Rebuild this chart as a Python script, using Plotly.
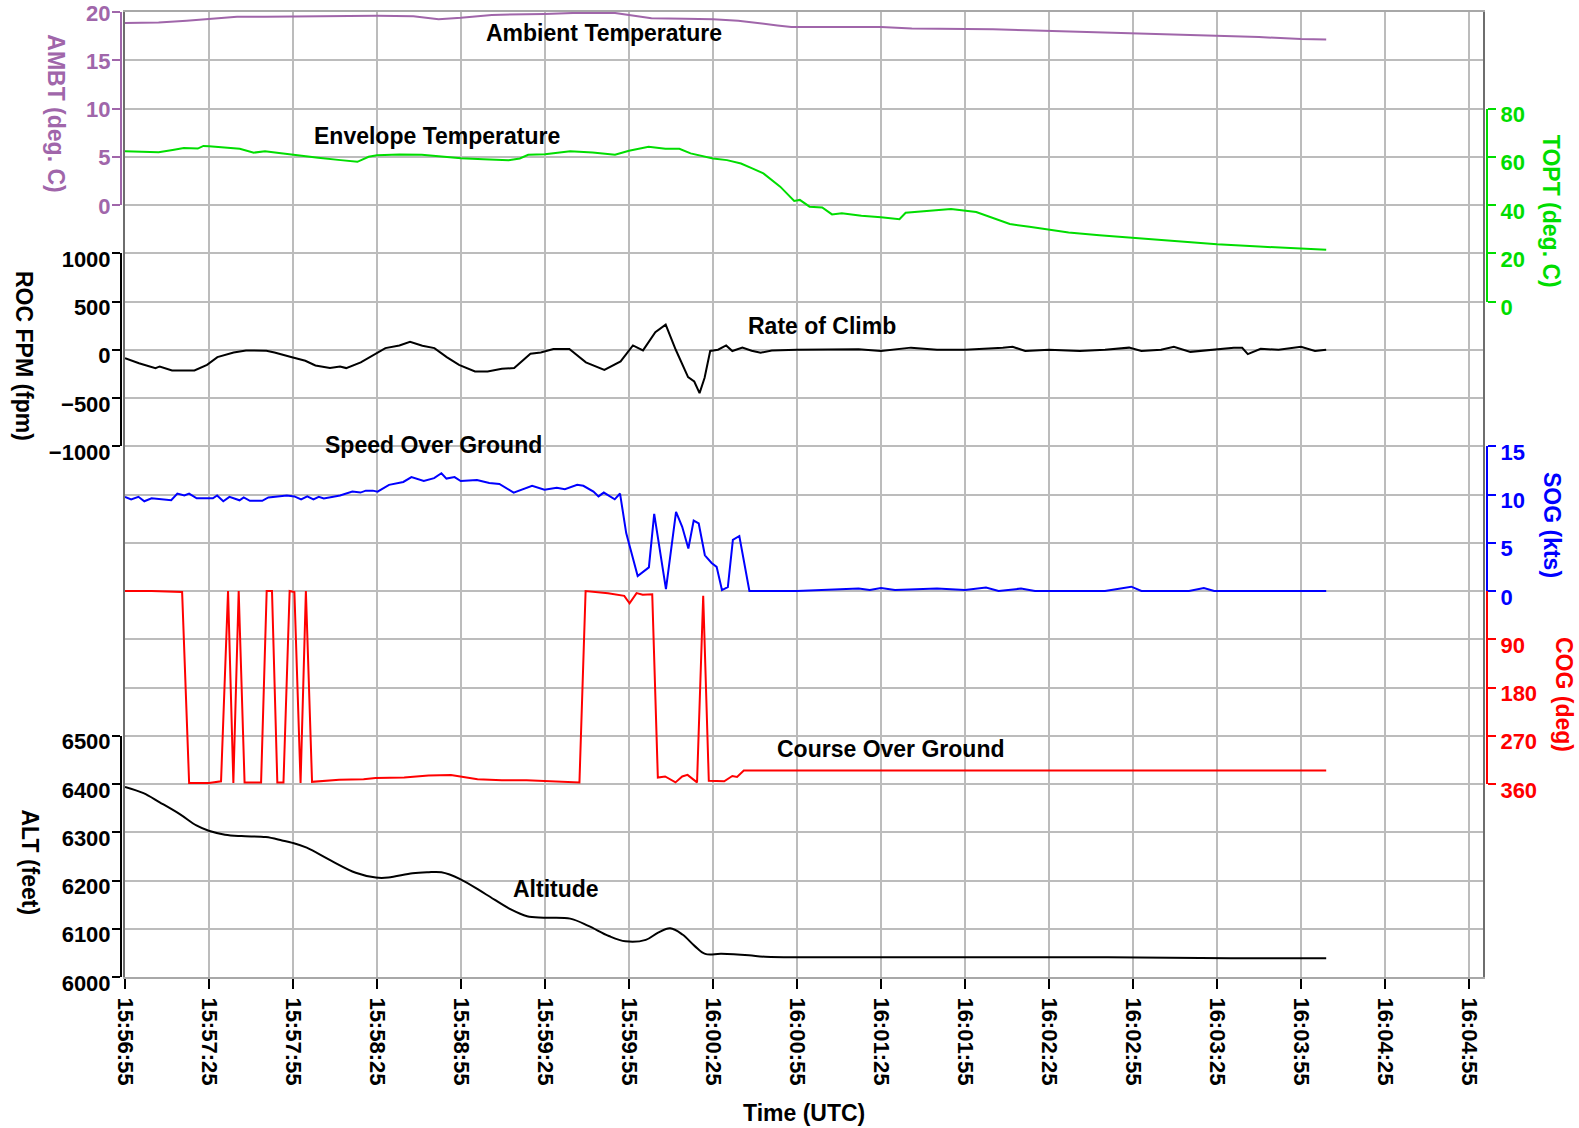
import plotly.graph_objects as go
from datetime import datetime, timedelta

# ---------------- data (seconds after 15:56:55 UTC) ----------------
START = "2000-01-01 15:56:55"
X_END_SEC = 485
X_TICK_STEP_SEC = 30

amb_t = [0, 12, 22, 30, 40, 50, 60, 65, 90, 103, 112, 120, 131, 150, 160, 175, 180, 188,
         200, 210, 219, 225, 233, 238, 250, 262, 265, 270, 281, 290, 300, 310, 322, 330,
         345, 360, 375, 390, 405, 420, 429]
amb_v = [18.86, 18.9, 19.1, 19.28, 19.5, 19.5, 19.52, 19.6, 19.6, 19.55, 19.25, 19.4, 19.7,
         19.8, 19.9, 19.9, 19.7, 19.35, 19.3, 19.25, 19.1, 18.86, 18.6, 18.45, 18.45, 18.4,
         18.45, 18.45, 18.3, 18.28, 18.24, 18.2, 18.1, 18.03, 17.95, 17.83, 17.7, 17.55,
         17.4, 17.2, 17.14]

topt_t = [0, 6, 12, 17, 21, 26, 28, 30, 35, 41, 46, 50, 55, 60, 69, 77, 83, 87, 90, 98,
          106, 112, 120, 128, 137, 141, 144, 150, 159, 167, 175, 180, 187, 193, 198, 202,
          210, 215, 220, 224, 228, 234, 239, 241, 244.5, 249, 252.5, 256, 263, 270, 276.6,
          278.8, 287, 295, 304, 310, 316, 323, 330, 337, 348, 360, 375, 390, 405, 420, 429]
topt_v = [62.3, 62.1, 61.9, 62.8, 63.6, 63.4, 64.5, 64.4, 63.8, 63.3, 61.7, 62.3, 61.6, 60.8,
          59.6, 58.6, 57.9, 60.0, 60.6, 60.9, 60.8, 60.2, 59.4, 59.0, 58.6, 59.3, 60.8, 61.0,
          62.3, 61.8, 60.8, 62.5, 64.1, 63.3, 63.3, 61.4, 59.3, 58.6, 57.2, 55.2, 53.1, 47.6,
          41.7, 42.1, 39.3, 39.0, 36.1, 36.6, 35.5, 34.9, 34.1, 36.8, 37.7, 38.3, 37.1, 34.5,
          32.1, 31.0, 29.9, 28.6, 27.5, 26.5, 25.0, 23.7, 22.8, 22.1, 21.4]

roc_t = [0, 5, 10.9, 12.4, 16.8, 24.8, 29.3, 33, 38.8, 43.2, 50.5, 53.4, 59.3, 64.4, 68,
         73.2, 76.8, 79, 84.2, 90, 93, 98, 101.8, 106.2, 110.5, 114.9, 119.3, 125, 129.5,
         134.6, 139, 144.8, 148.5, 153, 158.7, 164.6, 171.2, 177, 181.4, 185, 189.4, 193.1,
         196.7, 201.1, 203.3, 205.2, 207, 209, 211.8, 214.7, 216.9, 220.5, 223.8, 227, 231,
         240, 262, 270, 280.7, 290, 300, 313.5, 317, 321.5, 330, 341, 350, 358.6, 363, 370,
         374.6, 380.5, 388, 396, 399, 401, 405.6, 412, 420, 425, 429]
roc_v = [-87, -140, -190, -173, -215, -215, -156, -76, -28, -7, -10, -28, -76, -114, -163,
         -190, -173, -190, -131, -35, 17, 45, 83, 42, 17, -76, -156, -225, -225, -197, -190,
         -42, -28, 7, 7, -131, -208, -121, 45, -7, 183, 260, 0, -284, -329, -450, -290, -13,
         0, 45, -13, 22, -10, -31, -9, 0, 5, -13, 22, 0, 0, 22, 31, -13, 0, -13, 0, 22, -13,
         0, 31, -22, 0, 20, 20, -45, 10, 0, 31, -13, 0]

sog_t = [0, 2.2, 4.8, 6.9, 9.5, 13, 16.5, 18.7, 21.2, 22.9, 25.6, 31.4, 32.9, 35.1, 37.3,
         40.9, 42.4, 44.6, 49, 51.2, 57.8, 60.5, 62.9, 65.1, 67.3, 69.2, 71, 76.8, 81.2,
         84.1, 86, 88.5, 90.2, 94.3, 99.4, 102.3, 106.7, 110.4, 113, 114.8, 117.7, 119.9,
         125.7, 130.1, 133.7, 138.8, 145.4, 149.8, 154.2, 157.1, 161.5, 163.7, 167.3, 169.1,
         171, 174.9, 176.8, 179, 183.1, 187.1, 189, 193.2, 196.8, 199, 201.2, 203.1, 204.9,
         207.1, 209.5, 211.3, 213.2, 215.3, 217.1, 219.4, 223, 240, 262, 266, 270, 275, 290,
         300, 307.5, 312, 320, 325, 350, 359.4, 363, 380, 385.3, 389, 429]
sog_v = [9.76, 9.5, 9.76, 9.3, 9.6, 9.5, 9.4, 10.1, 9.9, 10.1, 9.6, 9.6, 9.9, 9.3, 9.76, 9.4,
         9.7, 9.35, 9.35, 9.7, 9.9, 9.8, 9.5, 9.8, 9.5, 9.76, 9.6, 9.9, 10.3, 10.2, 10.4, 10.4,
         10.3, 11.0, 11.3, 11.8, 11.4, 11.7, 12.2, 11.65, 11.8, 11.4, 11.5, 11.2, 11.1, 10.2,
         10.9, 10.5, 10.7, 10.55, 11.0, 10.9, 10.3, 9.8, 10.2, 9.5, 10.1, 6.0, 1.55, 2.45, 8.0,
         0.2, 8.2, 6.65, 4.4, 7.3, 7.0, 3.7, 2.9, 2.5, 0.1, 0.4, 5.3, 5.7, 0.0, 0.0, 0.25, 0.1,
         0.3, 0.1, 0.25, 0.1, 0.35, 0.0, 0.25, 0.0, 0.0, 0.45, 0.0, 0.0, 0.3, 0.0, 0.0]

cog_t = [0, 9.5, 20.4, 22.9, 30, 34.3, 36.8, 38.7, 40.6, 42.7, 48.6, 50.6, 52.5, 54.4, 56.6,
         58.8, 60.5, 62.7, 64.6, 66.8, 76.5, 85.2, 89.5, 99.7, 108.4, 116.4, 125.9, 134.6,
         143.4, 149.2, 162.3, 164.5, 172.5, 178.3, 180.2, 182.7, 184.9, 188.3, 190.3, 192.9,
         196.6, 199, 200.9, 204.3, 206.5, 208.5, 214, 216.9, 218.6, 221, 429]
cog_v = [0, 0, 2, 358, 358, 355, 0, 358, 0, 357, 357, 0, 0, 357, 357, 0, 2, 358, 0, 356, 352,
         351, 349, 348, 344, 343, 351, 353, 353, 354, 357, 0, 4, 9, 23, 4, 7, 6, 348, 346, 357,
         346, 343, 357, 9, 354, 355, 345, 347, 335, 335]

alt_t = [0, 6.6, 12.4, 19.7, 25.5, 29.9, 35.7, 41.6, 50.3, 56.1, 59.8, 64.9, 73.6, 82.4, 89.6,
         94, 102.7, 108, 113, 119.7, 129, 137.8, 143.6, 149.5, 159, 165.5, 172.8, 178.7, 186,
         190.4, 194.7, 199.1, 203.5, 207.2, 213, 222.8, 228.6, 249, 300, 351, 395, 429]
alt_v = [6394, 6381, 6362, 6337, 6314, 6303, 6295, 6292, 6290, 6283, 6278, 6268, 6241, 6216,
         6206, 6206, 6215, 6217, 6217, 6203, 6171, 6140, 6126, 6123, 6121, 6106, 6085, 6074,
         6077, 6092, 6101, 6088, 6064, 6048, 6048, 6045, 6042, 6041, 6041, 6041, 6039, 6039]

# ---------------- styling ----------------
PURPLE = "#a066aa"
GREEN = "#00dd00"
BLUE = "#0000ff"
RED = "#ff0000"
BLACK = "#000000"
GRID = "#bcbcbc"
FONT = "Arial, Liberation Sans, sans-serif"
TICK_SIZE = 22
TEXT_SIZE = 23
LINE_W = 2

W, H = 1579, 1128
ML, MR, MT, MB = 121, 92, 12, 151
PW = W - ML - MR
PH = H - MT - MB
NROWS = 20
EDGE = 4 / PW               # plot frame sits 4 px inside the free y axes

base = datetime.strptime(START, "%Y-%m-%d %H:%M:%S")


def to_time(seconds):
    return [base + timedelta(seconds=s) for s in seconds]


# band: rows (from top) covered by the visible axis, and its value range
bands = {
    "amb": dict(r0=0, r1=4, lo=0, hi=20, side="left", color=PURPLE, ticks=[0, 5, 10, 15, 20],
                lshift=1),
    "topt": dict(r0=2, r1=6, lo=0, hi=80, side="right", color=GREEN, ticks=[0, 20, 40, 60, 80],
                 lshift=6),
    "roc": dict(r0=5, r1=9, lo=-1000, hi=1000, side="left", color=BLACK,
                ticks=[-1000, -500, 0, 500, 1000], lshift=6),
    "sog": dict(r0=9, r1=12, lo=0, hi=15, side="right", color=BLUE, ticks=[0, 5, 10, 15],
                lshift=6),
    "cog": dict(r0=12, r1=16, lo=0, hi=360, side="right", color=RED, ticks=[90, 180, 270, 360],
                reverse=True, lshift=-6),
    "alt": dict(r0=15, r1=20, lo=6000, hi=6500, side="left", color=BLACK,
                ticks=[6000, 6100, 6200, 6300, 6400, 6500], lshift=6),
}
order = ["amb", "topt", "roc", "sog", "cog", "alt"]
data = {
    "amb": (amb_t, amb_v, "linear"),
    "topt": (topt_t, topt_v, "linear"),
    "roc": (roc_t, roc_v, "linear"),
    "sog": (sog_t, sog_v, "linear"),
    "cog": (cog_t, cog_v, "linear"),
    "alt": (alt_t, alt_v, "spline"),
}

fig = go.Figure()
layout_axes = {}
x_range = [base, base + timedelta(seconds=X_END_SEC)]

# grid axis (y) : one row per gridline over the full plot -> main subplot "xy"
layout_axes["yaxis"] = dict(domain=[0, 1], range=[0, NROWS], dtick=1, anchor="x",
                            showgrid=True, gridcolor=GRID, gridwidth=2,
                            showticklabels=False, ticks="", zeroline=False, showline=True,
                            linecolor="#6e6e6e", linewidth=2, mirror=True, automargin=False)
fig.add_trace(go.Scatter(x=to_time([0]), y=[None], xaxis="x", yaxis="y", mode="lines",
                         showlegend=False, hoverinfo="skip"))
fig.add_trace(go.Scatter(x=to_time([0]), y=[None], xaxis="x2", yaxis="y", mode="lines",
                         showlegend=False, hoverinfo="skip"))

axis_ref = {}
n = 2
for key in order:
    b = bands[key]
    rev = b.get("reverse", False)
    u = (b["hi"] - b["lo"]) / (b["r1"] - b["r0"])
    # data axis overlaying the full plot height
    if not rev:
        full = [b["lo"] - (NROWS - b["r1"]) * u, b["hi"] + b["r0"] * u]
    else:
        full = [b["hi"] + (NROWS - b["r1"]) * u, b["lo"] - b["r0"] * u]
    dname = f"y{n}"
    layout_axes[f"yaxis{n}"] = dict(overlaying="y", anchor="x", range=full, visible=False,
                                    showgrid=False, zeroline=False, automargin=False)
    t, v, shape = data[key]
    fig.add_trace(go.Scatter(x=to_time(t), y=v, xaxis="x", yaxis=dname, mode="lines",
                             line=dict(color=b["color"], width=LINE_W, shape=shape),
                             showlegend=False))
    axis_ref[key] = dname
    n += 1

# visible axes drawn only over their own band
EPS = 1e-6
for key in order:
    b = bands[key]
    rev = b.get("reverse", False)
    dom = [(NROWS - b["r1"]) / NROWS, (NROWS - b["r0"]) / NROWS]
    span = (b["hi"] - b["lo"]) * EPS
    rng = [b["hi"] + span, b["lo"] - span] if rev else [b["lo"] - span, b["hi"] + span]
    col = b["color"]
    left = b["side"] == "left"
    layout_axes[f"yaxis{n}"] = dict(
        domain=dom, range=rng, anchor="free", position=0 if left else 1,
        side=b["side"], showgrid=False, zeroline=False, showline=True, linecolor=col,
        linewidth=2, ticks="outside", ticklen=8, tickwidth=2, tickcolor=col,
        tickvals=b["ticks"], automargin=False, ticklabeloverflow="allow",
        ticklabelshift=b["lshift"], ticklabelstandoff=-3 if left else 0,
        tickfont=dict(family=FONT, size=TICK_SIZE, color=col, weight="bold"))
    fig.add_trace(go.Scatter(x=to_time([0]), y=[None], xaxis="x", yaxis=f"y{n}",
                             mode="lines", showlegend=False, hoverinfo="skip"))
    n += 1

fig.update_layout(
    width=W, height=H,
    margin=dict(l=ML, r=MR, t=MT, b=MB, autoexpand=False),
    paper_bgcolor="white", plot_bgcolor="rgba(0,0,0,0)",
    showlegend=False,
    xaxis=dict(domain=[EDGE, 1 - EDGE], anchor="y", type="date", range=x_range,
               tick0=base, dtick=X_TICK_STEP_SEC * 1000, tickformat="%H:%M:%S",
               tickangle=90, ticks="outside", ticklen=10, tickwidth=2, tickcolor=BLACK,
               showgrid=False, zeroline=False, showline=True, linecolor="#a8a8a8",
               linewidth=2, mirror=True, automargin=False, ticklabeloverflow="allow",
               ticklabelstandoff=4,
               tickfont=dict(family=FONT, size=TICK_SIZE, color=BLACK, weight="bold")),
    xaxis2=dict(domain=[EDGE, 1 - EDGE], anchor="y", overlaying="x", type="date",
                range=x_range, tick0=base, dtick=X_TICK_STEP_SEC * 1000,
                showgrid=True, gridcolor=GRID, gridwidth=2, showticklabels=False,
                ticks="", zeroline=False, showline=False, automargin=False),
    **layout_axes,
)

tfont = dict(family=FONT, size=TEXT_SIZE, color=BLACK, weight="bold")

# series labels inside the plot (data coordinates)
labels = [
    ("Ambient Temperature", 171, 17.8, "amb"),
    ("Envelope Temperature", 111.5, 68.6, "topt"),
    ("Rate of Climb", 249, 245, "roc"),
    ("Speed Over Ground", 110, 15.15, "sog"),
    ("Course Over Ground", 273.3, 295, "cog"),
    ("Altitude", 154, 6182, "alt"),
]
for txt, t, v, key in labels:
    fig.add_annotation(text=txt, x=to_time([t])[0], y=v, xref="x", yref=axis_ref[key],
                       showarrow=False, xanchor="center", yanchor="middle", font=tfont)

# axis titles (read top-to-bottom); positions in page pixels
titles = [
    ("AMBT (deg. C)", 0, 55.7, 113, PURPLE),
    ("ROC FPM (fpm)", 0, 24.7, 355.7, BLACK),
    ("ALT (feet)", 0, 30, 862.5, BLACK),
    ("TOPT (deg. C)", 1, 1551, 210.8, GREEN),
    ("SOG (kts)", 1, 1552, 525, BLUE),
    ("COG (deg)", 1, 1564, 694, RED),
]
for txt, px, xpix, ypix, col in titles:
    anchor_pix = ML if px == 0 else W - MR
    fig.add_annotation(text=txt, x=px, xref="paper", xshift=xpix - anchor_pix,
                       y=(H - MB - ypix) / PH, yref="paper", showarrow=False,
                       textangle=90, xanchor="center", yanchor="middle",
                       font=dict(family=FONT, size=TEXT_SIZE, color=col, weight="bold"))

fig.add_annotation(text="Time (UTC)", x=0.5, xref="paper", y=0, yref="paper",
                   yshift=-(1112.7 - (H - MB)), showarrow=False, xanchor="center",
                   yanchor="middle", font=tfont)

# the figure fills the window exactly: drop the browser's default body margin
fig.write_html("out.html", include_plotlyjs=True, full_html=True,
               config={"displayModeBar": False},
               post_script="document.body.style.margin='0px';")
